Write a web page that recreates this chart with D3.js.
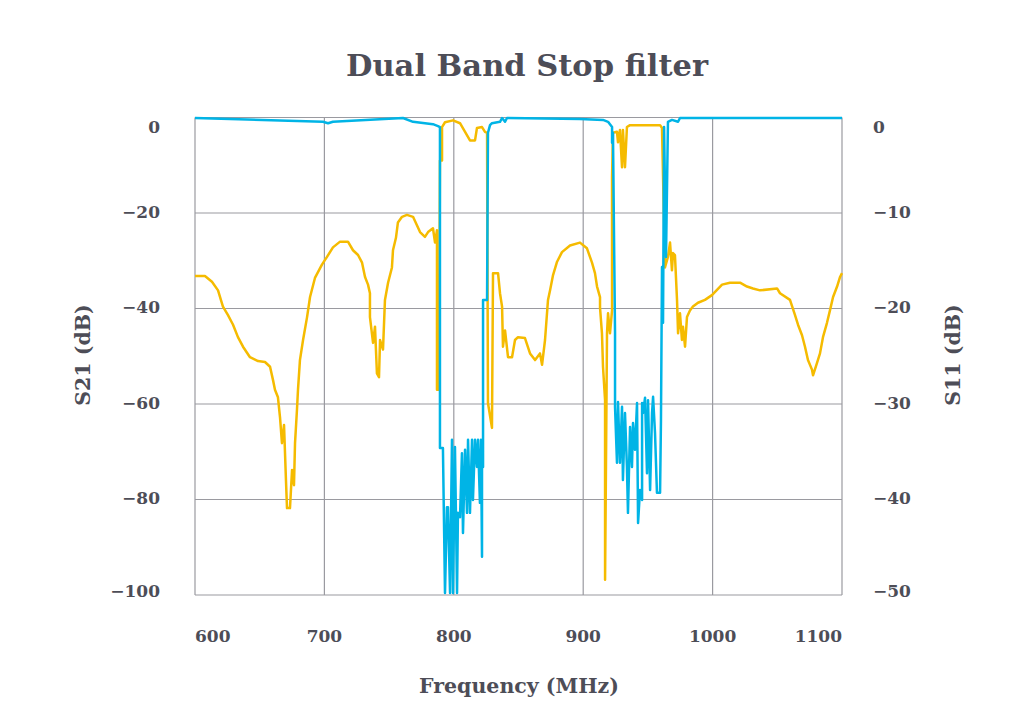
<!DOCTYPE html>
<html>
<head>
<meta charset="utf-8">
<script src="https://cdn.jsdelivr.net/npm/d3@7"></script>
<style>
  body { margin: 0; background: #fff; }
  text { font-family: "DejaVu Serif", serif; font-weight: bold; }
</style>
</head>
<body>
<div id="chart"></div>
<script>
// S11 (right axis, dB)
var s11Freq = [600, 607.7, 613.1, 617.8, 621.6, 625.5, 629.4, 633.2, 637.1, 642.5, 648.7, 654.1, 658.0, 660.3, 661.8, 664.1,
  665.7, 667.2, 668.8, 670.3, 671.1, 673.4, 675.0, 676.5, 677.3, 678.8, 679.6, 681.1, 683.5, 686.6, 688.9, 692.7,
  698.1, 702.0, 706.6, 712.1, 718.2, 722.1, 726.0, 729.1, 731.4, 733.7, 735.2, 735.2, 737.6, 739.1, 740.6, 742.2,
  743.0, 745.3, 746.8, 749.2, 752.2, 753.0, 755.3, 756.8, 760.0, 763.8, 768.5, 771.6, 773.9, 777.7, 780.1, 783.9,
  785.5, 787.0, 787.0, 788.6, 789.3, 790.9, 790.9, 793.2, 799.4, 804.8, 808.7, 812.5, 816.4, 817.9, 821.8, 824.1,
  825.7, 826.4, 829.5, 830.3, 834.2, 835.7, 837.3, 838.0, 839.6, 841.9, 845.0, 847.3, 849.6, 855.0, 858.9, 862.8,
  866.6, 868.2, 870.5, 872.8, 874.4, 876.7, 879.8, 883.6, 889.8, 897.5, 902.9, 906.8, 909.1, 910.7, 913.0, 913.0,
  914.5, 915.3, 916.9, 916.9, 918.4, 919.2, 920.7, 922.3, 922.3, 923.0, 926.1, 926.9, 928.4, 930.0, 930.7, 932.3,
  933.8, 936.2, 959.4, 960.9, 963.2, 965.5, 967.1, 968.6, 969.4, 970.9, 972.5, 973.3, 974.8, 976.3, 977.1, 978.7,
  980.2, 982.5, 984.8, 988.7, 994.1, 999.5, 1007.3, 1013.4, 1021.2, 1026.6, 1031.2, 1036.6, 1049.8, 1052.1, 1059.8,
  1063.7, 1066.0, 1069.1, 1071.4, 1073.7, 1076.8, 1077.6, 1080.7, 1083.0, 1085.3, 1088.4, 1090.7, 1093.1, 1096.2,
  1098.5, 1100];
var s11Val = [-16.6, -16.6, -17.2, -18.1, -19.8, -20.7, -21.7, -23.0, -24.0, -25.1, -25.5, -25.6, -26.1, -27.5, -28.5, -29.3,
  -31.4, -34.1, -32.2, -38.0, -40.9, -40.9, -36.9, -38.5, -34.1, -30.6, -28.5, -25.4, -23.3, -20.9, -18.8, -16.8,
  -15.4, -14.6, -13.6, -13.0, -13.0, -13.9, -14.4, -15.2, -16.7, -17.5, -18.4, -20.9, -23.6, -21.9, -26.8, -27.2,
  -23.3, -24.3, -19.1, -17.3, -15.7, -13.9, -12.6, -11.0, -10.4, -10.2, -10.4, -11.3, -12.0, -12.5, -12.0, -11.6,
  -13.1, -11.8, -28.5, -28.5, -4.5, -4.5, -1.0, -0.5, -0.3, -0.6, -1.5, -2.4, -2.4, -1.1, -1.0, -1.5,
  -1.6, -29.9, -32.5, -16.3, -16.3, -18.4, -19.8, -24.0, -22.3, -25.1, -25.1, -23.3, -23.0, -23.1, -24.7, -25.4,
  -24.7, -25.9, -23.3, -19.1, -18.1, -16.5, -15.1, -14.1, -13.4, -13.1, -13.7, -15.2, -16.3, -17.7, -18.8, -19.9,
  -22.6, -26.1, -29.6, -48.4, -22.6, -20.5, -22.6, -20.2, -6.2, -1.6, -1.5, -2.6, -1.3, -5.2, -1.3, -5.2,
  -1.0, -0.8, -0.8, -1.1, -15.7, -14.6, -13.1, -16.0, -14.2, -14.4, -19.1, -22.6, -20.5, -23.3, -21.9, -24.0,
  -20.9, -20.2, -19.8, -19.4, -19.1, -18.6, -17.5, -17.3, -17.3, -17.7, -17.9, -18.1, -17.9, -18.4, -19.1,
  -20.7, -21.7, -22.8, -24.0, -25.4, -26.4, -27.0, -25.7, -24.7, -23.0, -21.5, -20.2, -18.8, -17.7,
  -16.7, -16.3];

// S21 (left axis, dB)
var s21Freq = [600, 698.9, 702.8, 706.6, 760.7, 768.5, 783.9, 787.8, 789.3, 789.3, 791.6, 793.2, 794.7, 795.5, 797.1, 798.6,
  799.4, 800.9, 802.5, 803.2, 804.8, 806.3, 807.1, 808.7, 810.2, 811.0, 812.5, 814.1, 814.8, 816.4, 817.9, 818.7,
  820.2, 821.0, 821.8, 821.8, 822.6, 822.6, 825.7, 826.4, 828.0, 829.5, 835.7, 837.3, 839.6, 841.1, 897.5, 915.3,
  919.2, 922.3, 922.3, 923.0, 924.6, 924.6, 926.1, 926.9, 928.4, 930.0, 930.7, 932.3, 933.8, 934.6, 936.2, 937.7,
  938.5, 940.0, 941.6, 942.4, 943.9, 945.5, 945.5, 946.2, 947.8, 949.3, 950.1, 951.7, 953.2, 954.0, 955.5, 957.0,
  959.4, 960.1, 960.9, 961.7, 962.5, 964.0, 965.5, 968.6, 973.3, 974.8, 1100];
var s21Val = [-0.1, -0.9, -1.2, -0.9, -0.1, -0.9, -1.4, -1.8, -2.0, -69.2, -69.2, -99.6, -81.6, -81.6, -99.6, -67.5,
  -99.6, -69.0, -99.6, -82.8, -83.7, -70.3, -87.0, -69.6, -82.8, -67.5, -82.8, -67.5, -80.1, -67.5, -73.2, -67.5,
  -80.7, -67.5, -92.0, -69.6, -73.2, -38.2, -38.2, -3.2, -1.6, -1.2, -0.9, -0.1, -0.9, -0.1, -0.3, -0.5,
  -0.9, -2.0, -5.3, -3.2, -45.1, -60.6, -72.3, -59.6, -72.3, -60.6, -75.9, -61.9, -73.2, -82.8, -64.8, -73.2,
  -64.0, -69.6, -59.8, -84.9, -78.0, -80.1, -59.8, -61.9, -58.7, -74.5, -59.2, -78.0, -61.9, -58.5, -66.1, -78.6,
  -78.6, -63.4, -31.3, -43.0, -2.0, -29.2, -0.9, -0.5, -0.9, -0.1, -0.1];

var xTicks = [600, 700, 800, 900, 1000, 1100];
var leftTicks = [0, -20, -40, -60, -80, -100];
var rightTicks = [0, -10, -20, -30, -40, -50];

var width = 1024,
    height = 725,
    plotLeft = 195, plotRight = 842, plotTop = 117.5, plotBottom = 595;

var textColor = "#4d4d57";

var svg = d3.select("#chart")
    .append("svg")
    .attr("width", width)
    .attr("height", height);

var x = d3.scaleLinear().domain([600, 1100]).range([plotLeft, plotRight]);
var yLeft = d3.scaleLinear().domain([-100, 0]).range([plotBottom, plotTop]);
var yRight = d3.scaleLinear().domain([-50, 0]).range([plotBottom, plotTop]);

/* grid */
var grid = svg.append("g").attr("stroke", "#9a9aa0").attr("stroke-width", 1.2);
grid.selectAll("line.h")
    .data(leftTicks)
    .enter().append("line")
    .attr("x1", plotLeft).attr("x2", plotRight)
    .attr("y1", function(d) { return yLeft(d); })
    .attr("y2", function(d) { return yLeft(d); });
grid.selectAll("line.v")
    .data(xTicks)
    .enter().append("line")
    .attr("y1", plotTop).attr("y2", plotBottom)
    .attr("x1", function(d) { return x(d); })
    .attr("x2", function(d) { return x(d); });

/* tick labels, kept inside the plot edges */
var clampY = function(y) { return Math.max(plotTop + 10, Math.min(plotBottom - 4, y)); };

svg.append("g").selectAll("text")
    .data(leftTicks)
    .enter().append("text")
    .attr("x", 160)
    .attr("y", function(d) { return clampY(yLeft(d) - 1); })
    .attr("dy", "0.35em")
    .attr("text-anchor", "end")
    .attr("font-size", 17)
    .attr("fill", textColor)
    .text(d3.format(""));

svg.append("g").selectAll("text")
    .data(rightTicks)
    .enter().append("text")
    .attr("x", 873)
    .attr("y", function(d) { return clampY(yRight(d) - 1); })
    .attr("dy", "0.35em")
    .attr("text-anchor", "start")
    .attr("font-size", 17)
    .attr("fill", textColor)
    .text(d3.format(""));

svg.append("g").selectAll("text")
    .data(xTicks)
    .enter().append("text")
    .attr("y", 636)
    .attr("dy", "0.35em")
    .attr("text-anchor", "middle")
    .attr("font-size", 17)
    .attr("fill", textColor)
    .text(d3.format(""))
    .attr("x", function(d) {
        var w = this.getComputedTextLength() / 2;
        return Math.max(plotLeft + w, Math.min(plotRight - w, x(d)));
    });

/* lines */
var s11 = s11Freq.map(function(f, i) { return [f, s11Val[i]]; });
var s21 = s21Freq.map(function(f, i) { return [f, s21Val[i]]; });

svg.append("path")
    .datum(s11)
    .attr("fill", "none")
    .attr("stroke", "#f5bb00")
    .attr("stroke-width", 2.5)
    .attr("stroke-linejoin", "round")
    .attr("d", d3.line().x(function(d) { return x(d[0]); }).y(function(d) { return yRight(d[1]); }));

svg.append("path")
    .datum(s21)
    .attr("fill", "none")
    .attr("stroke", "#00b4e6")
    .attr("stroke-width", 2.5)
    .attr("stroke-linejoin", "round")
    .attr("d", d3.line().x(function(d) { return x(d[0]); }).y(function(d) { return yLeft(d[1]); }));

/* titles */
svg.append("text")
    .attr("x", 527).attr("y", 65)
    .attr("dy", "0.35em")
    .attr("text-anchor", "middle")
    .attr("font-size", 30.5)
    .attr("fill", textColor)
    .text("Dual Band Stop filter");

svg.append("text")
    .attr("x", 519).attr("y", 686)
    .attr("dy", "0.35em")
    .attr("text-anchor", "middle")
    .attr("font-size", 20.5)
    .attr("fill", textColor)
    .text("Frequency (MHz)");

svg.append("text")
    .attr("transform", "translate(83,355) rotate(-90)")
    .attr("dy", "0.35em")
    .attr("text-anchor", "middle")
    .attr("font-size", 20.5)
    .attr("fill", textColor)
    .text("S21 (dB)");

svg.append("text")
    .attr("transform", "translate(953,355) rotate(-90)")
    .attr("dy", "0.35em")
    .attr("text-anchor", "middle")
    .attr("font-size", 20.5)
    .attr("fill", textColor)
    .text("S11 (dB)");
</script>
</body>
</html>
